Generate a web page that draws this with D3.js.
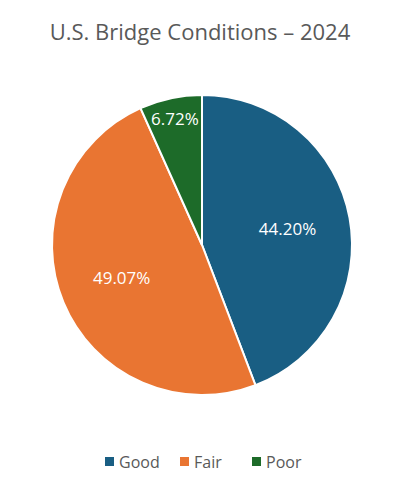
<!DOCTYPE html>
<html><head><meta charset="utf-8">
<script src="https://cdn.jsdelivr.net/npm/d3@7"></script>
<style>body{margin:0;background:#fff;font-family:"Open Sans",Lato,sans-serif;}</style>
</head><body><div id="chart"></div>
<script>
// data
var categories = ["Good", "Fair", "Poor"];
var shares = [44.20, 49.07, 6.72];
var colours = ["#195e83", "#e97532", "#1d6b29"];

var width = 400, height = 488;
var cx = 202, cy = 245, radius = 150;

var svg = d3.select("#chart").append("svg")
    .attr("width", width).attr("height", height);

svg.append("text")
    .attr("x", width / 2).attr("y", 40)
    .attr("text-anchor", "middle")
    .attr("fill", "#595959")
    .style("font-size", "22px")
    .text("U.S. Bridge Conditions \u2013 2024");

var pie = d3.pie().sort(null).value(function(d){ return d; });
var arcs = pie(shares);
var arc = d3.arc().innerRadius(0).outerRadius(radius);

var g = svg.append("g").attr("transform", "translate(" + cx + "," + cy + ")");

g.selectAll("path").data(arcs).enter().append("path")
    .attr("d", arc)
    .attr("fill", function(d, i){ return colours[i]; })
    .attr("stroke", "#fff").attr("stroke-width", 2);

// small slices get labels nearer the rim
g.selectAll(".lbl").data(arcs).enter().append("text")
    .attr("class", "lbl")
    .attr("transform", function(d){
        var r = (d.endAngle - d.startAngle) < 0.6 ? radius * 0.86 : radius * 0.58;
        var a = (d.startAngle + d.endAngle) / 2;
        return "translate(" + (r * Math.sin(a)) + "," + (-r * Math.cos(a)) + ")";
    })
    .attr("text-anchor", "middle").attr("dy", "0.35em")
    .attr("fill", "#fff").style("font-size", "17px")
    .text(function(d){ return d.value.toFixed(2) + "%"; });

// legend
var legend = svg.append("g").attr("transform", "translate(0,462)");
var xs = [105, 180, 252];
categories.forEach(function(c, i){
    legend.append("rect").attr("x", xs[i]).attr("y", -5).attr("width", 9).attr("height", 9).attr("fill", colours[i]);
    legend.append("text").attr("x", xs[i] + 14).attr("y", 0).attr("dy", "0.35em")
        .attr("fill", "#595959").style("font-size", "16px").text(c);
});
</script></body></html>
